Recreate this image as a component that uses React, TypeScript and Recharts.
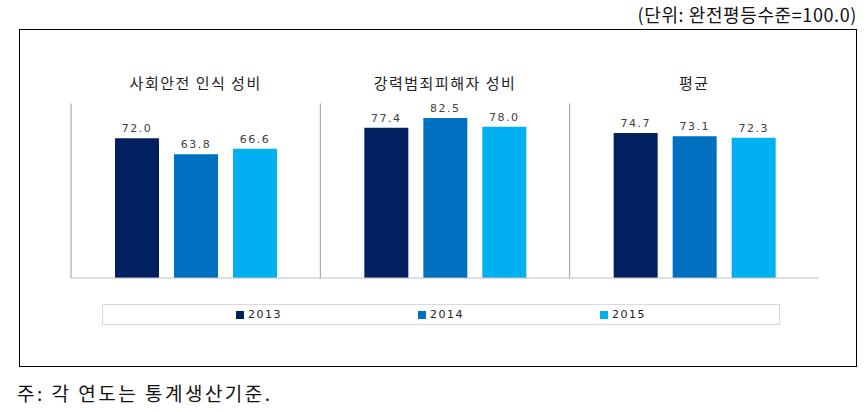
import { BarChart, Bar, XAxis, YAxis, Legend, LabelList, ReferenceLine } from 'recharts';

const categories = ['사회안전 인식 성비', '강력범죄피해자 성비', '평균'];
const years = ['2013', '2014', '2015'];
const values2013 = [72.0, 77.4, 74.7];
const values2014 = [63.8, 82.5, 73.1];
const values2015 = [66.6, 78.0, 72.3];
const colors = ['#002060', '#0070C0', '#00B0F0'];

const data = categories.map((name, i) => ({
  name,
  y2013: values2013[i],
  y2014: values2014[i],
  y2015: values2015[i],
}));

// group dividers: start edge of each category plus the end edge of the last one
const dividers: { cat: string; pos: 'start' | 'end' }[] = [
  ...categories.map((c) => ({ cat: c, pos: 'start' as const })),
  { cat: categories[categories.length - 1], pos: 'end' },
];

const numFont = '"DejaVu Sans", Verdana, sans-serif';
const krFont = '"Noto Sans CJK KR", "Noto Sans", sans-serif';

const CategoryTick = (props: any) => {
  const { x, y, payload } = props;
  return (
    <text x={x} y={y} dy={13} textAnchor="middle" fontFamily={krFont} fontSize={15} letterSpacing={1.5} fill="#222">
      {payload.value}
    </text>
  );
};

const LegendBox = () => (
  <div
    style={{
      boxSizing: 'border-box',
      width: 678,
      height: 21,
      border: '1px solid #d9d9d9',
      display: 'flex',
      alignItems: 'center',
      justifyContent: 'center',
      gap: 136,
      fontFamily: numFont,
      fontSize: 11,
      letterSpacing: 1.5,
      color: '#222',
    }}
  >
    {years.map((y, i) => (
      <div key={y} style={{ display: 'flex', alignItems: 'center' }}>
        <span style={{ width: 8, height: 8, background: colors[i], marginRight: 4, display: 'inline-block' }} />
        {y}
      </div>
    ))}
  </div>
);

const App: React.FC = () => {
  return (
    <div style={{ position: 'absolute', left: 0, top: 0, width: 868, height: 412, background: '#fff' }}>
      <div
        style={{
          position: 'absolute',
          right: 11,
          top: 3,
          fontFamily: krFont,
          fontSize: 18,
          letterSpacing: 0.6,
          color: '#111',
          whiteSpace: 'nowrap',
          lineHeight: '22px',
        }}
      >
        (단위: 완전평등수준=100.0)
      </div>
      <div
        style={{
          position: 'absolute',
          left: 19,
          top: 29,
          width: 838,
          height: 338,
          border: '1px solid #000',
          boxSizing: 'border-box',
        }}
      />
      <div style={{ position: 'absolute', left: 0, top: 0 }}>
        <BarChart
          width={868}
          height={412}
          data={data}
          margin={{ top: 64, right: 49, bottom: 134, left: 71 }}
          barCategoryGap={44}
          barGap={15}
        >
          <XAxis
            dataKey="name"
            orientation="top"
            height={20}
            tickLine={false}
            axisLine={false}
            tick={<CategoryTick />}
            interval={0}
          />
          <YAxis hide domain={[0, 100]} />
          <ReferenceLine y={0} stroke="#bfbfbf" />
          {dividers.map((d, i) => (
            <ReferenceLine
              key={i}
              position={d.pos}
              segment={[
                { x: d.cat, y: 0 },
                { x: d.cat, y: 90 },
              ]}
              stroke="#9a9a9a"
            />
          ))}
          <Legend
            layout="horizontal"
            verticalAlign="middle"
            align="center"
            content={<LegendBox />}
            wrapperStyle={{ top: 304, left: 102, width: 678, height: 21 }}
          />
          {['y2013', 'y2014', 'y2015'].map((k, i) => (
            <Bar key={k} dataKey={k} name={years[i]} fill={colors[i]} isAnimationActive={false}>
              <LabelList
                dataKey={k}
                position="top"
                offset={6}
                formatter={(v: any) => Number(v).toFixed(1)}
                style={{ fontFamily: numFont, fontSize: 11, letterSpacing: 1.5, fill: '#404040' }}
              />
            </Bar>
          ))}
        </BarChart>
      </div>
      <div
        style={{
          position: 'absolute',
          left: 17,
          top: 380,
          fontFamily: krFont,
          fontSize: 19,
          letterSpacing: 2.5,
          color: '#111',
          whiteSpace: 'nowrap',
          lineHeight: '26px',
        }}
      >
        주: 각 연도는 통계생산기준.
      </div>
    </div>
  );
};

export default App;
